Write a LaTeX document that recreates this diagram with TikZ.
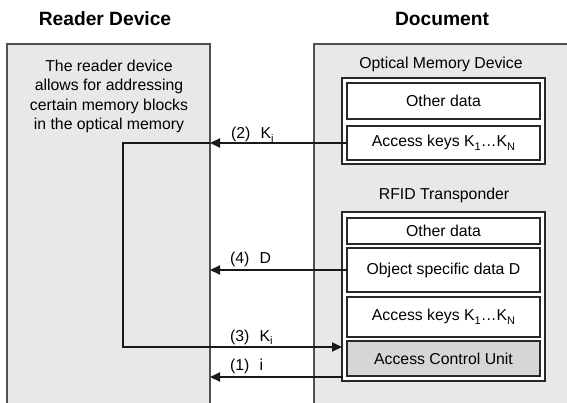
\documentclass[tikz,border=0pt]{standalone}
\usepackage{fontspec}
\setmainfont{Liberation Sans}
\usetikzlibrary{arrows.meta,calc}
\definecolor{panelgray}{RGB}{232,232,232}
\definecolor{unitgray}{RGB}{214,214,214}
\definecolor{edgegray}{RGB}{80,80,80}
\definecolor{boxline}{RGB}{40,40,40}
\newcommand{\lowsub}[1]{\raisebox{-3.6pt}{\fontsize{11}{11}\selectfont #1}}
\begin{document}
\begin{tikzpicture}[x=1pt,y=-1pt,
  every node/.style={inner sep=0pt, outer sep=0pt, font=\fontsize{15.8}{19.3}\selectfont},
  titletext/.style={font=\fontsize{19.2}{22}\selectfont\bfseries, anchor=base},
  panel/.style={fill=panelgray, draw=none, anchor=north west},
  paneledge/.style={draw=edgegray, line width=1.3pt},
  outerbox/.style={draw=boxline, line width=1.2pt, fill=white, anchor=north west},
  innerbox/.style={draw=boxline, line width=1.2pt, fill=white, anchor=north west, minimum width=193pt},
  unitbox/.style={innerbox, fill=unitgray},
  conn/.style={draw=black!90, line width=2pt},
  flow/.style={conn, -{Triangle[length=10pt,width=9pt]}},
  arrowlabel/.style={anchor=base west}
]
\useasboundingbox (0,0) rectangle (567,403);
\fill[white] (0,0) rectangle (567,403);

% panels
\node[panel, minimum width=203pt, minimum height=360pt] (reader) at (7,44) {};
\node[panel, minimum width=254pt, minimum height=360pt] (doc) at (314,44) {};
\draw[paneledge] (reader.south west) -- (reader.north west) -- (reader.north east) -- (reader.south east);
\draw[paneledge] (doc.south west) -- (doc.north west) -- (doc.north east);

% titles
\node[titletext] (readertitle) at (105,26) {Reader Device};
\node[titletext] (doctitle) at (442,26) {Document};

% reader text
\node[anchor=north, align=center] (readertext) at (109,60)
  {The reader device\\allows for addressing\\certain memory blocks\\in the optical memory};

% optical memory device
\node[anchor=base] (omdlabel) at (441,69) {Optical Memory Device};
\node[outerbox, minimum width=203pt, minimum height=86pt] (omd) at (342,78) {};
\node[innerbox, minimum height=36pt] (omdother) at (347,83) {Other data};
\node[innerbox, minimum height=34pt] (omdkeys) at (347,126) {Access keys K\lowsub{1}…K\lowsub{N}};

% RFID transponder
\node[anchor=base] (rfidlabel) at (444,200) {RFID Transponder};
\node[outerbox, minimum width=203pt, minimum height=169pt] (rfid) at (342,212) {};
\node[innerbox, minimum height=26pt] (rfidother) at (347,218) {Other data};
\node[innerbox, minimum height=44pt] (rfidobj) at (347,248) {Object specific data D};
\node[innerbox, minimum height=40pt] (rfidkeys) at (347,297) {Access keys K\lowsub{1}…K\lowsub{N}};
\node[unitbox, minimum height=35pt] (acu) at (347,341) {Access Control Unit};

% connectors
\coordinate (bend) at (123,347);
\coordinate (ret) at (343,377);
\draw[flow] (omdkeys.west) -- (omdkeys.west -| reader.east);
\draw[flow] (omdkeys.west -| reader.east) -- (omdkeys.west -| bend) -- (bend) -- (bend -| rfid.west);
\draw[flow] (rfidobj.west) -- (rfidobj.west -| reader.east);
\draw[flow] (ret) -- (ret -| reader.east);

% labels
\node[arrowlabel] (l2) at (231,139) {(2)\hspace{0.65em}K\lowsub{i}};
\node[arrowlabel] (l4) at (230,263) {(4)\hspace{0.65em}D};
\node[arrowlabel] (l3) at (230,341) {(3)\hspace{0.65em}K\lowsub{i}};
\node[arrowlabel] (l1) at (230,370) {(1)\hspace{0.65em}i};
\end{tikzpicture}
\end{document}
